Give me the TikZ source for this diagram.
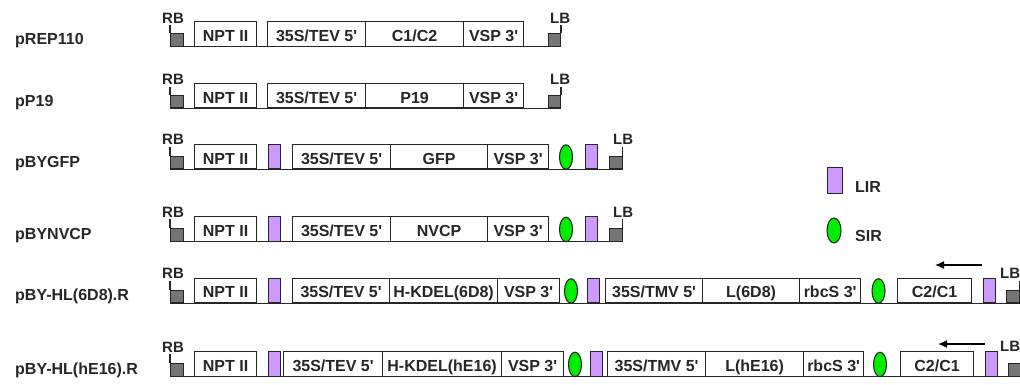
\documentclass[tikz,border=0pt]{standalone}
\usepackage{fontspec}
\setmainfont{Liberation Sans}[Ligatures=TeXOff]
\usetikzlibrary{shapes.geometric,arrows.meta}
\definecolor{lirc}{HTML}{CC99FF}
\definecolor{sirc}{HTML}{00EE00}
\definecolor{bordc}{HTML}{757575}
\definecolor{linec}{HTML}{262626}
\tikzset{
  every node/.style={font=\fontsize{16}{19}\selectfont\bfseries, text=linec},
  seg/.style={draw=linec, line width=1.2pt, fill=white, minimum height=24.5pt, inner sep=0pt, text height=15.2pt, text depth=0pt, anchor=south west},
  lirbox/.style={draw=linec, line width=1.1pt, fill=lirc, minimum width=12pt, minimum height=24.5pt, inner sep=0pt, anchor=south west},
  sirov/.style={ellipse, draw=linec, line width=1.1pt, fill=sirc, minimum width=13pt, minimum height=24.5pt, inner sep=0pt},
  bord/.style={draw=linec, line width=1pt, fill=bordc, minimum width=12.5pt, minimum height=12.5pt, inner sep=0pt, anchor=south west},
  bb/.style={draw=linec, line width=1.2pt},
  tag/.style={anchor=base west, inner sep=0pt},
  endtag/.style={anchor=base west, inner sep=0pt, font=\fontsize{15}{18}\selectfont\bfseries},
  dirarrow/.style={draw=black, line width=1.4pt, -{Latex[length=9pt,width=8pt]}}
}
\newcommand\seg[5]{\node[seg, minimum width={#3-#2}] (#1) at (#2,#4) {#5};}
\newcommand\lir[3]{\node[lirbox] (#1) at (#2,#3) {};}
\newcommand\sir[3]{\node[sirov] (#1) at (#2,#3-12.25) {};}
\begin{document}
\begin{tikzpicture}[x=1pt,y=-1pt]
\useasboundingbox (0,0) rectangle (1020,384);
% ---------- row 1: pREP110 ----------
\node[tag] (n1) at (15,44.3) {pREP110};
\node[bord] (rb1) at (170,46.7) {};
\node[endtag] (rbt1) at (162,23) {RB};
\node[bord] (lb1) at (547.5,46.7) {};
\node[endtag] (lbt1) at (550,23) {LB};
\draw[bb] (rb1.south west) -- (lb1.south east);
\draw[bb] (rb1.north west) -- ([yshift=-2pt]rb1.north west |- rbt1.base);
\draw[bb] (lb1.north east) -- ([yshift=-2pt]lb1.north east |- lbt1.base);
\seg{a1}{194}{256}{46.7}{NPT II}
\seg{a2}{267}{365}{46.7}{35S/TEV 5'}
\seg{a3}{365}{463}{46.7}{C1/C2}
\seg{a4}{463}{523}{46.7}{VSP 3'}
% ---------- row 2: pP19 ----------
\node[tag] (n2) at (15,106) {pP19};
\node[bord] (rb2) at (170,108.3) {};
\node[endtag] (rbt2) at (162,84.6) {RB};
\node[bord] (lb2) at (547.5,108.3) {};
\node[endtag] (lbt2) at (550,84.6) {LB};
\draw[bb] (rb2.south west) -- (lb2.south east);
\draw[bb] (rb2.north west) -- ([yshift=-2pt]rb2.north west |- rbt2.base);
\draw[bb] (lb2.north east) -- ([yshift=-2pt]lb2.north east |- lbt2.base);
\seg{b1}{194}{256}{108.3}{NPT II}
\seg{b2}{267}{365}{108.3}{35S/TEV 5'}
\seg{b3}{365}{463}{108.3}{P19}
\seg{b4}{463}{523}{108.3}{VSP 3'}
% ---------- row 3: pBYGFP ----------
\node[tag] (n3) at (15,167) {pBYGFP};
\node[bord] (rb3) at (170,169.3) {};
\node[endtag] (rbt3) at (162,144.6) {RB};
\node[bord] (lb3) at (609,169.3) {};
\node[endtag] (lbt3) at (613,144.6) {LB};
\draw[bb] (rb3.south west) -- (lb3.south east);
\draw[bb] (rb3.north west) -- ([yshift=-2pt]rb3.north west |- rbt3.base);
\draw[bb] (lb3.north east) -- ([yshift=-2pt]lb3.north east |- lbt3.base);
\seg{c1}{194}{256}{169.3}{NPT II}
\lir{c2}{268}{169.3}
\seg{c3}{292}{390}{169.3}{35S/TEV 5'}
\seg{c4}{390}{487}{169.3}{GFP}
\seg{c5}{487}{548}{169.3}{VSP 3'}
\sir{c6}{566}{169.3}
\lir{c7}{584.5}{169.3}
% ---------- row 4: pBYNVCP ----------
\node[tag] (n4) at (15,239.4) {pBYNVCP};
\node[bord] (rb4) at (170,241.7) {};
\node[endtag] (rbt4) at (162,217) {RB};
\node[bord] (lb4) at (609,241.7) {};
\node[endtag] (lbt4) at (613,217) {LB};
\draw[bb] (rb4.south west) -- (lb4.south east);
\draw[bb] (rb4.north west) -- ([yshift=-2pt]rb4.north west |- rbt4.base);
\draw[bb] (lb4.north east) -- ([yshift=-2pt]lb4.north east |- lbt4.base);
\seg{d1}{194}{256}{241.7}{NPT II}
\lir{d2}{268}{241.7}
\seg{d3}{292}{390}{241.7}{35S/TEV 5'}
\seg{d4}{390}{487}{241.7}{NVCP}
\seg{d5}{487}{548}{241.7}{VSP 3'}
\sir{d6}{566}{241.7}
\lir{d7}{584.5}{241.7}
% ---------- row 5: pBY-HL(6D8).R ----------
\node[tag] (n5) at (15,300.8) {pBY-HL(6D8).R};
\node[bord] (rb5) at (170,303.2) {};
\node[endtag] (rbt5) at (162,278.5) {RB};
\node[bord] (lb5) at (1006,303.2) {};
\node[endtag] (lbt5) at (1000,278.5) {LB};
\draw[bb] (rb5.south west) -- (lb5.south east);
\draw[bb] (rb5.north west) -- ([yshift=-2pt]rb5.north west |- rbt5.base);
\draw[bb] (lb5.north east) -- ([yshift=-2pt]lb5.north east |- lbt5.base);
\seg{e1}{194}{256}{303.2}{NPT II}
\lir{e2}{268}{303.2}
\seg{e3}{292}{389}{303.2}{35S/TEV 5'}
\seg{e4}{389}{497}{303.2}{H-KDEL(6D8)}
\seg{e5}{497}{559}{303.2}{VSP 3'}
\sir{e6}{571}{303.2}
\lir{e7}{587}{303.2}
\seg{e8}{605}{702}{303.2}{35S/TMV 5'}
\seg{e9}{702}{799}{303.2}{L(6D8)}
\seg{e10}{799}{860}{303.2}{rbcS 3'}
\sir{e11}{878.5}{303.2}
\seg{e12}{897}{971}{303.2}{C2/C1}
\lir{e13}{983}{303.2}
\coordinate (e14) at (982,265);
\coordinate (e15) at (935,265);
\draw[dirarrow] (e14) -- (e15);
% ---------- row 6: pBY-HL(hE16).R ----------
\node[tag] (n6) at (15,374.3) {pBY-HL(hE16).R};
\node[bord] (rb6) at (170,376.7) {};
\node[endtag] (rbt6) at (162,352) {RB};
\node[bord] (lb6) at (1008,376.7) {};
\node[endtag] (lbt6) at (1000,351) {LB};
\draw[bb] (rb6.south west) -- (lb6.south east);
\draw[bb] (rb6.north west) -- ([yshift=-2pt]rb6.north west |- rbt6.base);
\seg{f1}{194}{256}{376.7}{NPT II}
\lir{f2}{268}{376.7}
\seg{f3}{283}{382}{376.7}{35S/TEV 5'}
\seg{f4}{382}{501}{376.7}{H-KDEL(hE16)}
\seg{f5}{501}{563}{376.7}{VSP 3'}
\sir{f6}{575}{376.7}
\lir{f7}{590}{376.7}
\seg{f8}{607}{705}{376.7}{35S/TMV 5'}
\seg{f9}{705}{803}{376.7}{L(hE16)}
\seg{f10}{803}{863}{376.7}{rbcS 3'}
\sir{f11}{880}{376.7}
\seg{f12}{900}{973}{376.7}{C2/C1}
\lir{f13}{985}{376.7}
\coordinate (f14) at (985,344);
\coordinate (f15) at (938,344);
\draw[dirarrow] (f14) -- (f15);
% ---------- legend ----------
\node[lirbox, minimum width=15pt, minimum height=26pt] (leglir) at (827,194) {};
\node[tag] (leglirt) at (855,192.7) {LIR};
\node[sirov, minimum width=14pt, minimum height=25pt] (legsir) at (834,230.5) {};
\node[tag] (legsirt) at (855,241.7) {SIR};
\end{tikzpicture}
\end{document}
